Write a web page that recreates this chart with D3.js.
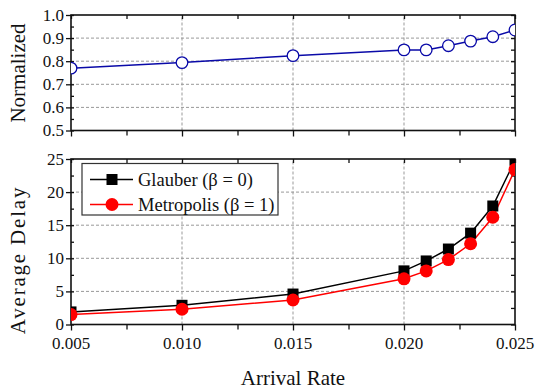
<!DOCTYPE html>
<html>
<head>
<meta charset="utf-8">
<script src="https://cdn.jsdelivr.net/npm/d3@7"></script>
<style>
  body { margin: 0; background: #fff; }
</style>
</head>
<body>
<div id="chart"></div>
<script>
// arrival rate (x) shared by both panels
var arrivalRate = [0.005, 0.010, 0.015, 0.020, 0.021, 0.022, 0.023, 0.024, 0.025];
var normalized  = [0.770, 0.794, 0.824, 0.849, 0.849, 0.867, 0.887, 0.906, 0.935];
var glauber     = [1.9, 2.9, 4.6, 8.1, 9.6, 11.4, 13.8, 17.9, 24.8];
var metropolis  = [1.5, 2.3, 3.7, 6.9, 8.1, 9.8, 12.2, 16.2, 23.4];
var xTicks      = [0.005, 0.010, 0.015, 0.020, 0.025];
var normTicks   = [0.5, 0.6, 0.7, 0.8, 0.9, 1.0];
var delayTicks  = [0, 5, 10, 15, 20, 25];
var legendNames = ["Glauber (\u03b2 = 0)", "Metropolis (\u03b2 = 1)"];

var width = 537, height = 391;
var left = 71, right = 515;
var serif = "'Liberation Serif', 'Times New Roman', serif";

var svg = d3.select("#chart").append("svg")
    .attr("width", width).attr("height", height)
    .attr("font-family", serif);

var x = d3.scaleLinear().domain([0.005, 0.025]).range([left, right]);
var yTop = d3.scaleLinear().domain([0.5, 1.0]).range([130.5, 15]);
var yBot = d3.scaleLinear().domain([0, 25]).range([324.5, 159]);

function halfSteps(ticks){
    var out = [];
    for (var i = 0; i < ticks.length - 1; i++) out.push((ticks[i] + ticks[i+1]) / 2);
    return out;
}

function drawPanel(y, yTicks, yFmt, clipId){
    var g = svg.append("g");
    var y0 = y.range()[0], y1 = y.range()[1];

    // grid
    g.selectAll(".gx").data(xTicks.slice(1, -1)).enter().append("line")
        .attr("x1", d => x(d)).attr("x2", d => x(d))
        .attr("y1", y0).attr("y2", y1)
        .attr("stroke", "#999").attr("stroke-dasharray", "3,2").attr("stroke-width", 1);
    g.selectAll(".gy").data(yTicks.slice(1, -1)).enter().append("line")
        .attr("x1", left).attr("x2", right)
        .attr("y1", d => y(d)).attr("y2", d => y(d))
        .attr("stroke", "#999").attr("stroke-dasharray", "3,2").attr("stroke-width", 1);

    var minorX = halfSteps(xTicks), minorY = halfSteps(yTicks);

    // bottom axis
    g.append("g").attr("transform", "translate(0," + y0 + ")")
        .call(d3.axisBottom(x).tickValues(xTicks).tickSize(6).tickFormat(""))
        .call(a => a.select(".domain").remove());
    g.append("g").attr("transform", "translate(0," + y0 + ")")
        .call(d3.axisBottom(x).tickValues(minorX).tickSize(5).tickFormat(""))
        .call(a => a.select(".domain").remove());
    // top axis (inward ticks)
    g.append("g").attr("transform", "translate(0," + y1 + ")")
        .call(d3.axisBottom(x).tickValues(xTicks.concat(minorX)).tickSize(4).tickFormat(""))
        .call(a => a.select(".domain").remove());
    // left axis
    g.append("g").attr("transform", "translate(" + left + ",0)")
        .call(d3.axisLeft(y).tickValues(yTicks).tickSize(5).tickFormat(yFmt).tickPadding(2))
        .call(a => a.select(".domain").remove())
        .call(a => a.attr("font-family", serif).attr("font-size", 17))
        .call(a => a.selectAll("text").attr("fill", "#111").attr("dy", "0.3em"));
    g.append("g").attr("transform", "translate(" + left + ",0)")
        .call(d3.axisRight(y).tickValues(yTicks.concat(minorY)).tickSize(3).tickFormat(""))
        .call(a => a.select(".domain").remove());
    // right axis (inward ticks)
    g.append("g").attr("transform", "translate(" + right + ",0)")
        .call(d3.axisLeft(y).tickValues(yTicks.concat(minorY)).tickSize(4).tickFormat(""))
        .call(a => a.select(".domain").remove());

    g.selectAll(".tick line").attr("stroke", "#111").attr("stroke-width", 1.3);

    // frame
    g.append("rect").attr("x", left).attr("y", y1)
        .attr("width", right - left).attr("height", y0 - y1)
        .attr("fill", "none").attr("stroke", "#111").attr("stroke-width", 1.6);

    svg.append("clipPath").attr("id", clipId).append("rect")
        .attr("x", left).attr("y", y1).attr("width", right - left).attr("height", y0 - y1);
    return svg.append("g").attr("clip-path", "url(#" + clipId + ")");
}

// ---- top panel
var topG = drawPanel(yTop, normTicks, d3.format(".1f"), "clipTop");
var blue = "#0a0aa8";
topG.append("path").datum(normalized)
    .attr("fill", "none").attr("stroke", blue).attr("stroke-width", 1.5)
    .attr("d", d3.line().x((d, i) => x(arrivalRate[i])).y(d => yTop(d)));
topG.selectAll(".nc").data(normalized).enter().append("circle")
    .attr("cx", (d, i) => x(arrivalRate[i])).attr("cy", d => yTop(d))
    .attr("r", 5.8).attr("fill", "#fff").attr("stroke", blue).attr("stroke-width", 1.3);

// ---- bottom panel
var botG = drawPanel(yBot, delayTicks, d3.format("d"), "clipBot");
var line = d3.line().x((d, i) => x(arrivalRate[i])).y(d => yBot(d));
botG.append("path").datum(glauber)
    .attr("fill", "none").attr("stroke", "#000").attr("stroke-width", 1.5).attr("d", line);
botG.append("path").datum(metropolis)
    .attr("fill", "none").attr("stroke", "#f00").attr("stroke-width", 1.5).attr("d", line);
botG.selectAll(".sq").data(glauber).enter().append("rect")
    .attr("x", (d, i) => x(arrivalRate[i]) - 5.5).attr("y", d => yBot(d) - 5.5)
    .attr("width", 11).attr("height", 11).attr("fill", "#000");
botG.selectAll(".rc").data(metropolis).enter().append("circle")
    .attr("cx", (d, i) => x(arrivalRate[i])).attr("cy", d => yBot(d))
    .attr("r", 6.5).attr("fill", "#f00");

// bottom tick labels
svg.append("g").selectAll("text").data(xTicks).enter().append("text")
    .attr("x", d => x(d)).attr("y", 349)
    .attr("text-anchor", "middle").attr("font-size", 17).attr("fill", "#111")
    .text(d3.format(".3f"));

// legend
var lg = svg.append("g").attr("transform", "translate(82,163.5)");
lg.append("rect").attr("width", 196).attr("height", 51.5)
    .attr("fill", "#fff").attr("stroke", "#333").attr("stroke-width", 1.2);
legendNames.forEach(function(name, i){
    var yy = 16 + i * 25;
    var col = i === 0 ? "#000" : "#f00";
    lg.append("line").attr("x1", 8).attr("x2", 51).attr("y1", yy).attr("y2", yy)
        .attr("stroke", col).attr("stroke-width", 1.5);
    if (i === 0) {
        lg.append("rect").attr("x", 24.5).attr("y", yy - 5.5).attr("width", 11).attr("height", 11).attr("fill", "#000");
    } else {
        lg.append("circle").attr("cx", 30).attr("cy", yy).attr("r", 6.5).attr("fill", "#f00");
    }
    lg.append("text").attr("x", 56).attr("y", yy + 6).attr("font-size", 18.5).attr("fill", "#111").text(name);
});

// axis titles
svg.append("text").attr("transform", "translate(25,73) rotate(-90)")
    .attr("text-anchor", "middle").attr("font-size", 21).attr("fill", "#111").text("Normalized");
svg.append("text").attr("transform", "translate(25,260) rotate(-90)")
    .attr("text-anchor", "middle").attr("font-size", 21).attr("fill", "#111")
    .attr("letter-spacing", "1.8px").text("Average Delay");
svg.append("text").attr("x", 293).attr("y", 385)
    .attr("text-anchor", "middle").attr("font-size", 21).attr("fill", "#111").text("Arrival Rate");
</script>
</body>
</html>
